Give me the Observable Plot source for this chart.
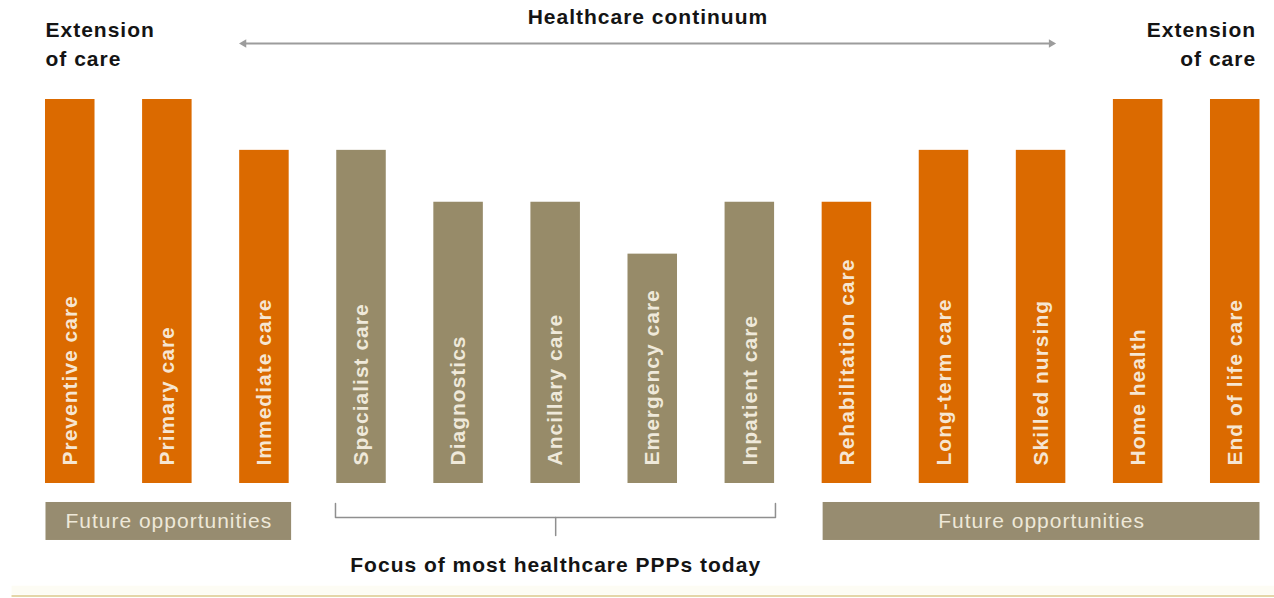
<!DOCTYPE html>
<html><head><meta charset="utf-8">
<script src="https://cdn.jsdelivr.net/npm/d3@7"></script>
<script src="https://cdn.jsdelivr.net/npm/@observablehq/plot@0.6"></script>
<style>
html,body{margin:0;padding:0;background:#fff;}
#chart svg{display:block;}
#chart svg text{letter-spacing:1px;}
</style></head><body><div id="chart"></div>
<script>
// Care settings along the healthcare continuum
const categories = ["Preventive care","Primary care","Immediate care","Specialist care","Diagnostics","Ancillary care","Emergency care","Inpatient care","Rehabilitation care","Long-term care","Skilled nursing","Home health","End of life care"];
// relative bar height (arbitrary units)
const values = [7.4,7.4,6.42,6.42,5.42,5.42,4.42,5.42,5.42,6.42,6.42,7.4,7.4];
// which segment each setting belongs to
const segments = ["Extension","Extension","Extension","Focus","Focus","Focus","Focus","Focus","Extension","Extension","Extension","Extension","Extension"];
// annotation labels
const headerLabel = "Healthcare continuum";
const sideLabel = "Extension\nof care";
const futureLabel = "Future opportunities";
const focusLabel = "Focus of most healthcare PPPs today";

const orange = "#DB6A00", khaki = "#978B69";
const data = categories.map((c, i) => ({name: c, i, value: values[i], seg: segments[i]}));
const hw = 0.255; // half bar width in index units

// group extents (index units)
const futureBoxes = [{x1: -0.25, x2: 2.28}, {x1: 7.755, x2: 12.255}];
const bracketTop = -0.385, bracketMid = -0.655, bracketTip = -1.0;
const bracket = [[2.732, bracketTop],[2.732, bracketMid],[7.264, bracketMid],[7.264, bracketTop]];
const bracketTick = [[5, bracketMid],[5, bracketTip]];
const arrowY = 8.479;

const plot = Plot.plot({
  width: 1274, height: 598,
  marginTop: 99, marginBottom: 115, marginLeft: 69.76, marginRight: 39.26,
  x: {domain: [0, 12], axis: null},
  y: {domain: [0, 7.4], axis: null},
  style: {fontFamily: "'Liberation Sans', Arial, sans-serif", background: "#fff"},
  marks: [
    // faint bottom band and line
    Plot.rect([0], {x1: -0.6, x2: 12.45, y1: -1.98, y2: -2.15, fill: "#fdfcf4"}),
    Plot.ruleY([-2.17], {x1: -0.6, x2: 12.45, stroke: "#e4d6a8", strokeWidth: 2}),
    // bars
    Plot.rect(data, {x1: d => d.i - hw, x2: d => d.i + hw, y1: 0, y2: "value",
      fill: d => d.seg === "Focus" ? khaki : orange}),
    // bar labels
    Plot.text(data, {x: "i", y: 0.347, text: "name", rotate: -90, textAnchor: "start", lineAnchor: "middle",
      fontSize: 21, fontWeight: "bold", fill: d => d.seg === "Focus" ? "#efe9da" : "#f6e6d2"}),
    // future opportunities boxes
    Plot.rect(futureBoxes, {x1: "x1", x2: "x2", y1: -0.366, y2: -1.098, fill: "#978C70"}),
    Plot.text(futureBoxes, {x: d => (d.x1 + d.x2) / 2, y: -0.732, text: () => futureLabel, lineAnchor: "middle",
      fontSize: 21, fill: "#eee8d8"}),
    // bracket
    Plot.line(bracket, {x: d => d[0], y: d => d[1], stroke: "#8f8f8f", strokeWidth: 1.5}),
    Plot.line(bracketTick, {x: d => d[0], y: d => d[1], stroke: "#8f8f8f", strokeWidth: 1.5}),
    Plot.text([focusLabel], {x: 5, y: -1.696, lineAnchor: "bottom", fontSize: 21, fontWeight: "bold", fill: "#141414"}),
    // continuum arrow
    Plot.ruleY([arrowY], {x1: 1.79, x2: 10.1, stroke: "#9c9c9c", strokeWidth: 2}),
    Plot.dot([{x: 1.788, r: -90}, {x: 10.105, r: 90}], {x: "x", y: arrowY, rotate: "r", symbol: "triangle2", r: 4, fill: "#9c9c9c", stroke: "none"}),
    Plot.text([headerLabel], {x: 5.95, y: 8.846, lineAnchor: "bottom", fontSize: 21, fontWeight: "bold", fill: "#141414"}),
    // extension of care headers
    Plot.text([sideLabel], {x: -0.255, y: 8.036, lineAnchor: "bottom", textAnchor: "start", lineHeight: 1.381,
      fontSize: 21, fontWeight: "bold", fill: "#141414"}),
    Plot.text([sideLabel], {x: 12.215, y: 8.036, lineAnchor: "bottom", textAnchor: "end", lineHeight: 1.381,
      fontSize: 21, fontWeight: "bold", fill: "#141414"})
  ]
});
document.getElementById("chart").appendChild(plot);
</script></body></html>
